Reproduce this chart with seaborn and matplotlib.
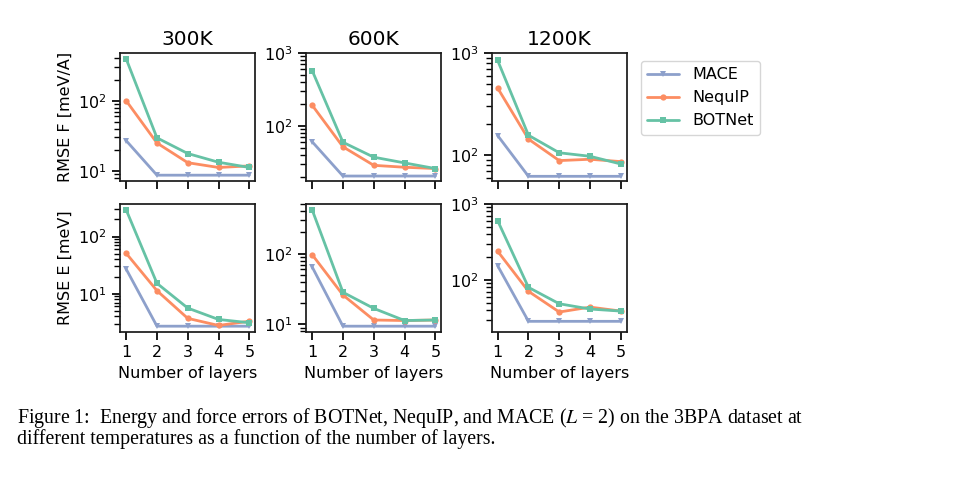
import numpy as np
import pandas as pd
import matplotlib
matplotlib.use("Agg")
import matplotlib.pyplot as plt
import seaborn as sns

layers = [1, 2, 3, 4, 5]
models = ["MACE", "NequIP", "BOTNet"]
temps = ["300K", "600K", "1200K"]

# Force RMSE [meV/A]
f_300_mace = [27, 8.7, 8.7, 8.7, 8.7]
f_300_nequip = [100, 25, 13.1, 11.2, 11.8]
f_300_botnet = [395, 29.6, 17.7, 13.3, 11.2]

f_600_mace = [61, 20.7, 20.7, 20.7, 20.7]
f_600_nequip = [193, 52, 29, 27.3, 26.2]
f_600_botnet = [575, 60, 37.5, 31.3, 26.2]

f_1200_mace = [155, 61.7, 61.7, 61.7, 61.7]
f_1200_nequip = [453, 143, 88, 90.7, 86]
f_1200_botnet = [845, 156, 105, 97, 81.5]

# Energy RMSE [meV]
e_300_mace = [27, 2.7, 2.7, 2.7, 2.7]
e_300_nequip = [51, 11.3, 3.7, 2.78, 3.3]
e_300_botnet = [294, 15.2, 5.6, 3.54, 3.1]

e_600_mace = [65, 9.4, 9.4, 9.4, 9.4]
e_600_nequip = [97, 26, 11.5, 11.3, 11.5]
e_600_botnet = [419, 28.4, 16.8, 11.3, 11.5]

e_1200_mace = [154, 28.6, 28.6, 28.6, 28.6]
e_1200_nequip = [239, 71, 37.9, 44, 39]
e_1200_botnet = [603, 80, 48.7, 41.5, 39]

force = {
    "300K": [f_300_mace, f_300_nequip, f_300_botnet],
    "600K": [f_600_mace, f_600_nequip, f_600_botnet],
    "1200K": [f_1200_mace, f_1200_nequip, f_1200_botnet],
}
energy = {
    "300K": [e_300_mace, e_300_nequip, e_300_botnet],
    "600K": [e_600_mace, e_600_nequip, e_600_botnet],
    "1200K": [e_1200_mace, e_1200_nequip, e_1200_botnet],
}

ylims = {
    ("F", "600K"): (17.7, 1000),
    ("F", "1200K"): (55.5, 1000),
    ("E", "1200K"): (20.7, 1000),
}

sns.set_theme(style="ticks")
plt.rcParams["font.family"] = ["DejaVu Sans"]
plt.rcParams["text.color"] = "black"
plt.rcParams["axes.labelcolor"] = "black"
plt.rcParams["xtick.color"] = "black"
plt.rcParams["ytick.color"] = "black"
plt.rcParams["axes.edgecolor"] = "0.1"

set2 = sns.color_palette("Set2")
palette = {"MACE": set2[2], "NequIP": set2[1], "BOTNet": set2[0]}
markers = {"MACE": "v", "NequIP": "o", "BOTNet": "s"}

fig = plt.figure(figsize=(9.6, 4.9), dpi=100)
W, H = 960, 490
lefts = [120, 306, 491.5]
aw, ah = 135.5, 128
tops = [53, 204]

axes = []
for r, (key, store, ylabel) in enumerate([("F", force, "RMSE F [meV/A]"),
                                          ("E", energy, "RMSE E [meV]")]):
    for c, t in enumerate(temps):
        ax = fig.add_axes([lefts[c] / W, 1 - (tops[r] + ah) / H, aw / W, ah / H])
        rows = []
        for m, vals in zip(models, store[t]):
            for l, v in zip(layers, vals):
                rows.append({"layers": l, "value": v, "model": m})
        df = pd.DataFrame(rows)
        sns.lineplot(data=df, x="layers", y="value", hue="model", style="model",
                     hue_order=models, style_order=models, palette=palette,
                     markers=markers, dashes=False, linewidth=2, markersize=4.5,
                     markeredgewidth=0, ax=ax, legend=(r == 0 and c == 0))
        ax.set_yscale("log")
        if (key, t) in ylims:
            ax.set_ylim(*ylims[(key, t)])
        ax.set_xticks(layers)
        ax.tick_params(labelsize=11.5)
        if r == 0:
            ax.set_title(t, fontsize=14.5)
            ax.set_xticklabels([])
            ax.set_xlabel("")
        else:
            ax.set_xlabel("Number of layers", fontsize=11.5)
        if c == 0:
            ax.set_ylabel(ylabel, fontsize=11.5)
        else:
            ax.set_ylabel("")
        axes.append(ax)

handles, labels = axes[0].get_legend_handles_labels()
axes[0].get_legend().remove()
fig.legend(handles, labels, loc="upper left", bbox_to_anchor=(641 / W, 1 - 61 / H),
           fontsize=11.5, frameon=True, borderaxespad=0)

fig.text(17 / W, 1 - 422.7 / H,
         r"Figure 1:  Energy and force errors of BOTNet, NequIP, and MACE ($L$ = 2) on the 3BPA dataset at",
         family="Liberation Serif", fontsize=14.3, va="baseline", math_fontfamily="stix")
fig.text(17 / W, 1 - 444.3 / H,
         "different temperatures as a function of the number of layers.",
         family="Liberation Serif", fontsize=14.3, va="baseline")

fig.savefig("out.png", dpi=100)
